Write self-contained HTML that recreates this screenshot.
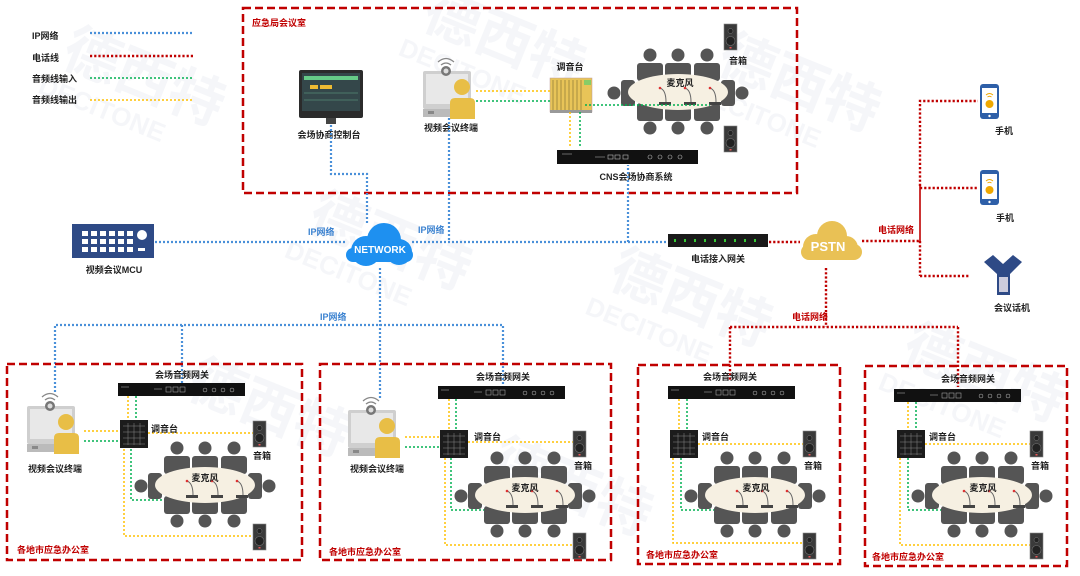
<!DOCTYPE html>
<html><head><meta charset="utf-8"><style>
html,body{margin:0;padding:0;background:#fff;width:1080px;height:576px;overflow:hidden;}
svg{display:block;}
text{font-family:"Liberation Sans","Noto Sans CJK SC",sans-serif;font-weight:bold;font-size:9px;fill:#222;}
.r{fill:#c00000;}
.b{fill:#3b82d0;}
.w{font-size:56px;fill:#e3e7ee;opacity:.35;}
.ws{font-size:26px;fill:#e3e7ee;opacity:.35;}
.ip{stroke:#4a90d9;stroke-width:2.2;stroke-dasharray:2 2;fill:none;}
.tel{stroke:#c00000;stroke-width:2.4;stroke-dasharray:2.2 2;fill:none;}
.g{stroke:#00b050;stroke-width:1.5;stroke-dasharray:2 2;fill:none;}
.y{stroke:#ffc000;stroke-width:1.5;stroke-dasharray:2 2;fill:none;}
.box{stroke:#c00000;stroke-width:2.5;stroke-dasharray:8 4;fill:none;}
</style></head><body>
<svg width="1080" height="576" viewBox="0 0 1080 576" xmlns="http://www.w3.org/2000/svg">
<defs>
<g id="tbl">
  <g fill="#555">
    <circle cx="57" cy="28" r="6.5"/><circle cx="85" cy="28" r="6.5"/><circle cx="114" cy="28" r="6.5"/>
    <rect x="44" y="36" width="26" height="18" rx="3"/><rect x="72" y="36" width="26" height="18" rx="3"/><rect x="101" y="36" width="26" height="18" rx="3"/>
    <rect x="44" y="76" width="26" height="18" rx="3"/><rect x="72" y="76" width="26" height="18" rx="3"/><rect x="101" y="76" width="26" height="18" rx="3"/>
    <circle cx="57" cy="101" r="6.5"/><circle cx="85" cy="101" r="6.5"/><circle cx="114" cy="101" r="6.5"/>
    <rect x="28" y="53" width="14" height="26" rx="3"/><circle cx="21" cy="66" r="6.5"/>
    <rect x="128" y="53" width="14" height="26" rx="3"/><circle cx="149" cy="66" r="6.5"/>
  </g>
  <ellipse cx="85" cy="65" rx="50" ry="18" fill="#f6f0e2"/>
  <g stroke="#666" stroke-width="1" fill="none">
    <path d="M67 61 q6 2 6 14"/><path d="M92 61 q6 2 6 14"/><path d="M117 61 q6 2 6 14"/>
  </g>
  <g fill="#444"><rect x="66" y="75" width="12" height="3"/><rect x="91" y="75" width="12" height="3"/><rect x="116" y="75" width="12" height="3"/></g>
  <g fill="#d33"><circle cx="67" cy="61" r="1.3"/><circle cx="92" cy="61" r="1.3"/><circle cx="117" cy="61" r="1.3"/></g>
</g>
<g id="spk"><rect x="0" y="0" width="13" height="26" fill="#3a3a3a" stroke="#888" stroke-width=".6"/><circle cx="6.5" cy="17" r="4.5" fill="#222" stroke="#777" stroke-width=".6"/><circle cx="6.5" cy="7" r="2.5" fill="#222" stroke="#777" stroke-width=".5"/><rect x="5.5" y="23" width="2" height="1.5" fill="#e55"/></g>
<g id="mix"><rect x="0" y="0" width="28" height="28" fill="#1c1c1c"/><g stroke="#888" stroke-width=".5"><path d="M3 6h22M3 12h22M3 18h22M3 24h22M8 3v22M14 3v22M20 3v22"/></g></g>
<g id="gw"><rect x="0" y="0" width="127" height="13" fill="#111"/><g stroke="#bbb" stroke-width=".5" fill="none"><path d="M3 4h8M36 6h8"/><rect x="48" y="4" width="5" height="5"/><rect x="55" y="4" width="5" height="5"/><rect x="62" y="4" width="5" height="5"/><circle cx="87" cy="7" r="2"/><circle cx="96" cy="7" r="2"/><circle cx="105" cy="7" r="2"/><circle cx="114" cy="7" r="2"/></g></g>
<g id="term">
  <rect x="0" y="14" width="48" height="38" rx="2" fill="#cfcfcf"/><rect x="3" y="17" width="42" height="30" fill="#e8e8e8"/><rect x="0" y="52" width="48" height="8" fill="#bbb"/><rect x="5" y="54" width="6" height="3" fill="#888"/>
  <circle cx="23" cy="14" r="5" fill="#777"/><circle cx="23" cy="14" r="2.5" fill="#ddd"/>
  <path d="M15 5 q8 -7 16 0" stroke="#888" stroke-width="1.3" fill="none"/><path d="M18 8 q5 -4 10 0" stroke="#888" stroke-width="1.3" fill="none"/>
  <circle cx="39" cy="30" r="8" fill="#e8be46"/><path d="M27 62 v-16 q0 -5 5 -5 h15 q5 0 5 5 v16z" fill="#e8be46"/>
</g>
<g id="phone"><rect x="0" y="0" width="19" height="35" rx="3" fill="#2e5fa8"/><rect x="2" y="4" width="15" height="25" fill="#fff"/><circle cx="9.5" cy="20" r="4" fill="#f0a800"/><path d="M6 11 q3.5 -3 7 0M7.5 13 q2 -1.5 4 0" stroke="#f0a800" stroke-width="1" fill="none"/><circle cx="9.5" cy="32" r="1.2" fill="#fff"/></g>
</defs>

<!-- watermarks -->
<g transform="rotate(22 540 288)">
<text class="w" x="30" y="60">德西特</text><text class="ws" x="20" y="95">DECITONE</text>
<text class="w" x="330" y="90">德西特</text><text class="ws" x="320" y="125">DECITONE</text>
<text class="w" x="620" y="20">德西特</text><text class="ws" x="610" y="55">DECITONE</text>
<text class="w" x="10" y="260">德西特</text><text class="ws" x="0" y="295">DECITONE</text>
<text class="w" x="300" y="320">德西特</text><text class="ws" x="290" y="355">DECITONE</text>
<text class="w" x="600" y="260">德西特</text><text class="ws" x="590" y="295">DECITONE</text>
<text class="w" x="900" y="220">德西特</text><text class="ws" x="890" y="255">DECITONE</text>
<text class="w" x="250" y="520">德西特</text>
<text class="w" x="560" y="480">德西特</text>
</g>

<!-- legend -->
<text x="32" y="39">IP网络</text><text x="32" y="61">电话线</text><text x="32" y="82">音频线输入</text><text x="32" y="103">音频线输出</text>
<path class="ip" d="M90 33H193" stroke-width="1.3"/><path class="tel" d="M90 56H193" stroke-width="1.3"/><path class="g" d="M90 78H193"/><path class="y" d="M90 100H193"/>

<!-- top box -->
<rect class="box" x="243" y="8" width="554" height="185"/>
<text class="r" x="252" y="26">应急局会议室</text>
<rect x="299" y="70" width="64" height="48" rx="2" fill="#2b2b2b"/><rect x="302" y="73" width="58" height="38" fill="#34474a"/>
<rect x="304" y="76" width="54" height="4" fill="#6c8"/><rect x="310" y="85" width="8" height="4" fill="#eb3"/><rect x="320" y="85" width="12" height="4" fill="#eb3"/><path d="M304 93h54M304 100h54" stroke="#6a8" stroke-width=".6"/>
<rect x="326" y="118" width="10" height="6" fill="#444"/>
<text x="329" y="138" text-anchor="middle">会场协商控制台</text>
<use href="#term" x="423" y="57"/>
<text x="451" y="131" text-anchor="middle">视频会议终端</text>
<rect x="550" y="78" width="42" height="34" fill="#e8c458" stroke="#b99" stroke-width=".5"/>
<g stroke="#7a6a30" stroke-width=".6"><path d="M553 80v30M557 80v30M561 80v30M565 80v30M569 80v30M573 80v30M577 80v30M581 80v30"/></g><rect x="584" y="80" width="7" height="5" fill="#8c6"/><rect x="550" y="110" width="42" height="3" fill="#999"/>
<text x="570" y="70" text-anchor="middle">调音台</text>
<use href="#tbl" x="593" y="27"/>
<text x="680" y="86" text-anchor="middle">麦克风</text>
<use href="#spk" x="724" y="24"/><use href="#spk" x="724" y="126"/>
<text x="738" y="64" text-anchor="middle">音箱</text>
<rect x="557" y="150" width="141" height="14" fill="#111"/>
<g stroke="#bbb" stroke-width=".6" fill="none"><path d="M562 154h10M595 157h10"/><rect x="608" y="155" width="5" height="4"/><rect x="615" y="155" width="5" height="4"/><rect x="623" y="155" width="5" height="4"/><circle cx="650" cy="157" r="2"/><circle cx="660" cy="157" r="2"/><circle cx="670" cy="157" r="2"/><circle cx="680" cy="157" r="2"/></g>
<text x="636" y="180" text-anchor="middle">CNS会场协商系统</text>
<path class="y" d="M476 91H550M570 112V147"/><path class="g" d="M476 101H550M580 112V147M585 105H710"/>

<!-- IP lines -->
<path class="ip" d="M331 125V174H367V225"/>
<path class="ip" d="M449 118V242"/>
<path class="ip" d="M155 242H346"/>
<path class="ip" d="M412 242H668M628 242V165"/>
<path class="ip" d="M380 268V400"/>
<path class="ip" d="M55 392V325H503V386M182 325V384"/>
<text class="b" x="308" y="235">IP网络</text><text class="b" x="418" y="233">IP网络</text><text class="b" x="320" y="320">IP网络</text>
<!-- MCU -->
<rect x="72" y="224" width="82" height="34" fill="#2e4a86"/>
<g fill="#fff"><rect x="82" y="231" width="6" height="5"/><rect x="91" y="231" width="6" height="5"/><rect x="100" y="231" width="6" height="5"/><rect x="109" y="231" width="6" height="5"/><rect x="118" y="231" width="6" height="5"/><rect x="127" y="231" width="6" height="5"/>
<rect x="82" y="239" width="6" height="5"/><rect x="91" y="239" width="6" height="5"/><rect x="100" y="239" width="6" height="5"/><rect x="109" y="239" width="6" height="5"/><rect x="118" y="239" width="6" height="5"/><rect x="127" y="239" width="6" height="5"/>
<rect x="82" y="247" width="6" height="5"/><rect x="91" y="247" width="6" height="5"/><rect x="100" y="247" width="6" height="5"/><rect x="109" y="247" width="6" height="5"/><rect x="118" y="247" width="6" height="5"/><rect x="127" y="247" width="6" height="5"/>
<circle cx="142" cy="235" r="5"/><rect x="138" y="248" width="7" height="3"/></g>
<text x="114" y="273" text-anchor="middle">视频会议MCU</text>
<g fill="#1e90f0"><circle cx="366" cy="251" r="15"/><circle cx="384" cy="240" r="17"/><circle cx="399" cy="252" r="13"/><rect x="346" y="248" width="67" height="14" rx="7"/></g>
<text x="380" y="253" text-anchor="middle" style="fill:#fff;font-size:10px">NETWORK</text>
<rect x="668" y="234" width="100" height="13" fill="#1a1a1a"/>
<g fill="#3c3"><rect x="674" y="239" width="2" height="3"/><rect x="684" y="239" width="2" height="3"/><rect x="694" y="239" width="2" height="3"/><rect x="704" y="239" width="2" height="3"/><rect x="714" y="239" width="2" height="3"/><rect x="724" y="239" width="2" height="3"/><rect x="734" y="239" width="2" height="3"/><rect x="744" y="239" width="2" height="3"/><rect x="754" y="239" width="2" height="3"/></g>
<text x="718" y="262" text-anchor="middle">电话接入网关</text>
<g fill="#e9c155"><circle cx="816" cy="247" r="13"/><circle cx="832" cy="236" r="15"/><circle cx="846" cy="248" r="12"/><rect x="801" y="244" width="61" height="16" rx="8"/></g>
<text x="828" y="251" text-anchor="middle" style="fill:#fff;font-size:13px">PSTN</text>
<path class="tel" d="M769 242H800M862 241H920M920 241V276"/>
<path d="M920 186V241" stroke="#c00000" stroke-width="1.6"/>
<path class="tel" d="M920 186V101H978M920 188H978M920 276H970"/>
<text class="r" x="878" y="233">电话网络</text>
<use href="#phone" x="980" y="84"/><use href="#phone" x="980" y="170"/>
<text x="1004" y="134" text-anchor="middle">手机</text><text x="1005" y="221" text-anchor="middle">手机</text>
<path d="M984 262 L993 255 L1003 264 L1013 255 L1022 262 L1010 274 V295 H997 V274Z" fill="#2e4a86"/>
<rect x="999" y="277" width="9" height="15" fill="#ccd"/>
<text x="1012" y="311" text-anchor="middle">会议话机</text>
<path class="tel" d="M826 268V327M730 327H958M730 327V380M958 327V387"/>
<text class="r" x="792" y="320">电话网络</text>

<!-- Box 1 -->
<rect class="box" x="7" y="364" width="295" height="196"/>
<use href="#gw" x="118" y="383"/><text x="182" y="378" text-anchor="middle">会场音频网关</text>
<use href="#term" x="27" y="392"/><text x="55" y="472" text-anchor="middle">视频会议终端</text>
<path class="y" d="M84 431H120M128 396V420M148 433H253M124 449V536H253"/><path class="g" d="M84 441H120M136 396V420M131 449V500H230"/>
<use href="#tbl" x="120" y="420"/>
<use href="#mix" x="120" y="420"/><text x="151" y="432">调音台</text>
<text x="205" y="481" text-anchor="middle">麦克风</text>
<use href="#spk" x="253" y="421"/><use href="#spk" x="253" y="524"/><text x="262" y="459" text-anchor="middle">音箱</text>
<text class="r" x="17" y="553">各地市应急办公室</text>

<!-- Box 2 -->
<rect class="box" x="320" y="364" width="291" height="196"/>
<use href="#gw" x="438" y="386"/><text x="503" y="380" text-anchor="middle">会场音频网关</text>
<use href="#term" x="348" y="396"/><text x="377" y="472" text-anchor="middle">视频会议终端</text>
<path class="y" d="M405 437H440M449 399V430M468 442H573M445 458V545H573"/><path class="g" d="M405 447H440M456 399V430M451 458V510H550"/>
<use href="#tbl" x="440" y="430"/>
<use href="#mix" x="440" y="430"/><text x="474" y="440">调音台</text>
<text x="525" y="491" text-anchor="middle">麦克风</text>
<use href="#spk" x="573" y="431"/><use href="#spk" x="573" y="533"/><text x="583" y="469" text-anchor="middle">音箱</text>
<text class="r" x="329" y="555">各地市应急办公室</text>

<!-- Box 3 -->
<rect class="box" x="638" y="365" width="202" height="199"/>
<use href="#gw" x="668" y="386"/><text x="730" y="380" text-anchor="middle">会场音频网关</text>
<path class="y" d="M679 399V430M698 444H803M673 458V543H803"/><path class="g" d="M687 399V430M681 458V510H790"/>
<use href="#tbl" x="670" y="430"/>
<use href="#mix" x="670" y="430"/><text x="702" y="440">调音台</text>
<text x="756" y="491" text-anchor="middle">麦克风</text>
<use href="#spk" x="803" y="431"/><use href="#spk" x="803" y="533"/><text x="813" y="469" text-anchor="middle">音箱</text>
<text class="r" x="646" y="558">各地市应急办公室</text>

<!-- Box 4 -->
<rect class="box" x="865" y="366" width="202" height="200"/>
<use href="#gw" x="894" y="389"/><text x="968" y="382" text-anchor="middle">会场音频网关</text>
<path class="y" d="M908 402V430M925 444H1030M900 458V545H1030"/><path class="g" d="M916 402V430M908 458V510H1017"/>
<use href="#tbl" x="897" y="430"/>
<use href="#mix" x="897" y="430"/><text x="929" y="440">调音台</text>
<text x="983" y="491" text-anchor="middle">麦克风</text>
<use href="#spk" x="1030" y="431"/><use href="#spk" x="1030" y="533"/><text x="1040" y="469" text-anchor="middle">音箱</text>
<text class="r" x="872" y="560">各地市应急办公室</text>
</svg>
</body></html>
